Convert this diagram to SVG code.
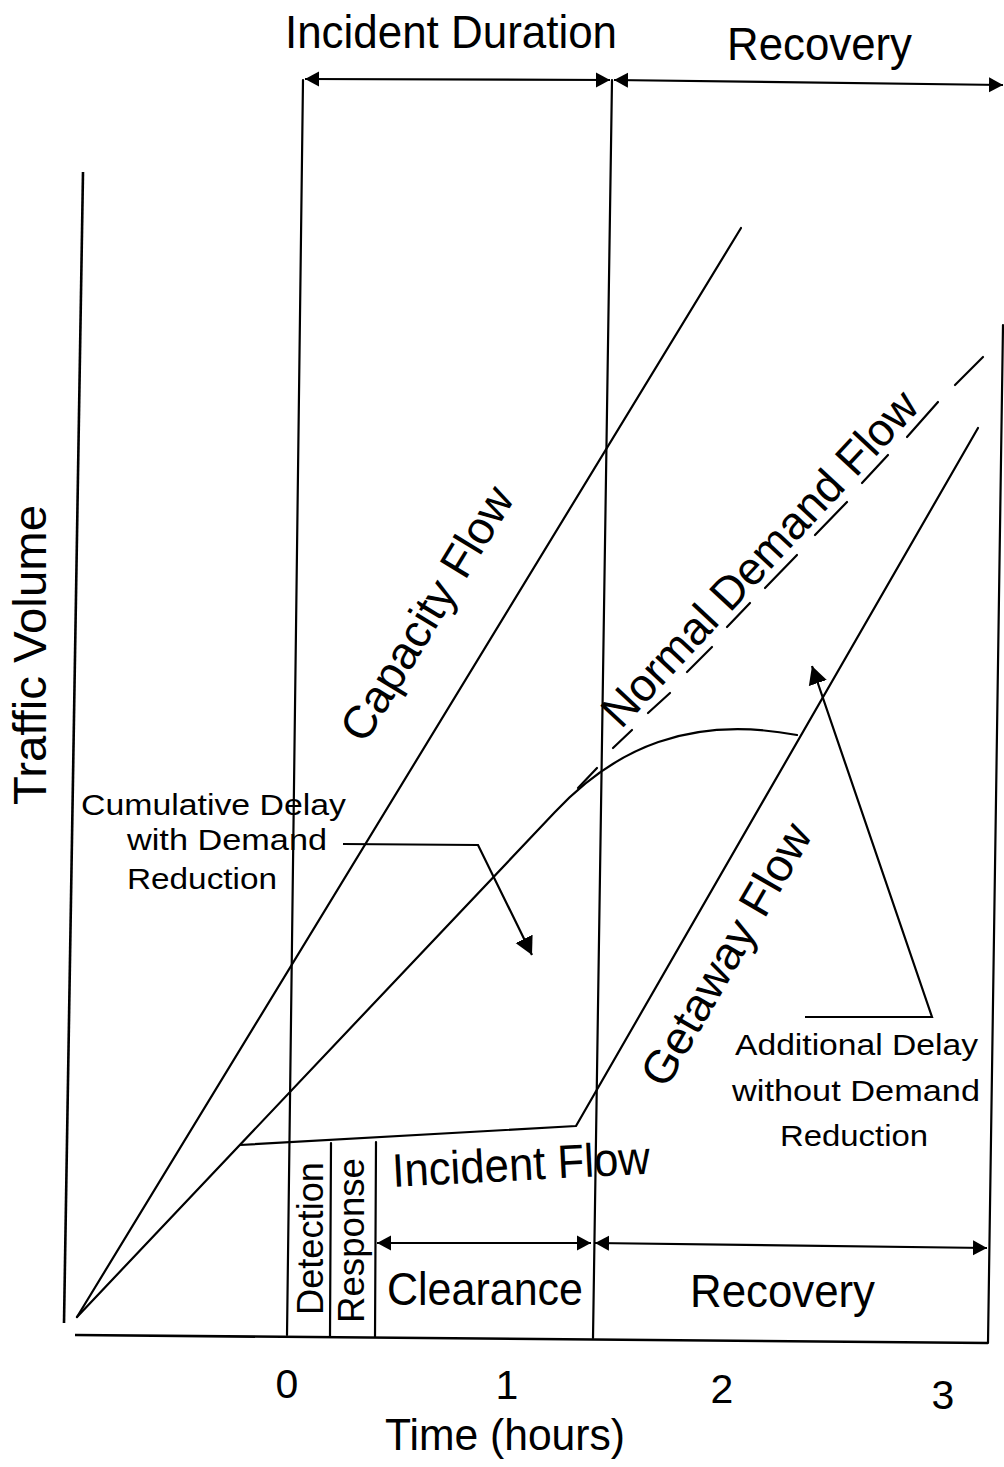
<svg xmlns="http://www.w3.org/2000/svg" width="1004" height="1467" viewBox="0 0 1004 1467">
<defs>
<marker id="ah" viewBox="0 -8 14 16" markerWidth="14" markerHeight="16" refX="14" refY="0" orient="auto-start-reverse" markerUnits="userSpaceOnUse"><path d="M0,-7.5 L14,0 L0,7.5 z" fill="#000"/></marker>
<marker id="ahb" viewBox="0 -10 18 20" markerWidth="18" markerHeight="20" refX="18" refY="0" orient="auto" markerUnits="userSpaceOnUse"><path d="M0,-9.5 L18,0 L0,9.5 z" fill="#000"/></marker>
</defs>
<style>
.ln{stroke:#000;stroke-width:2.2;fill:none;stroke-linecap:round;stroke-linejoin:round}
.ax{stroke:#000;stroke-width:2.6;fill:none}
.ar{stroke:#000;stroke-width:2.2;fill:none;marker-start:url(#ah);marker-end:url(#ah)}
.ld{stroke:#000;stroke-width:2.2;fill:none;marker-end:url(#ahb)}
text{font-family:"Liberation Sans",Arial,Helvetica,sans-serif;fill:#000}
.big{font-size:47px}
.mid{font-size:46px}
.sm{font-size:30px}
.tk{font-size:41px}
</style>
<rect width="1004" height="1467" fill="#fff"/>
<g id="connectors">
<path class="ax" d="M83,172 L64,1323"/>
<path class="ax" d="M75,1335 L988,1343"/>
<path class="ln" d="M303,80 L287,1335"/>
<path class="ln" d="M331,1143 L330,1336"/>
<path class="ln" d="M376,1142 L375,1337"/>
<path class="ln" d="M612,80 L593,1338"/>
<path class="ln" d="M1003,325 L988,1343"/>
<path class="ln" d="M77,1317 L741,228"/>
<path class="ln" d="M77,1317 L555,812 C615,748 690,715 797,735"/>
<path class="ln" d="M240,1145 L576,1126 L978,428"/>
<g id="normal-dashes" class="ln">
<path d="M578,788 L597,768"/>
<path d="M613,748 L632,730"/>
<path d="M648,713 L670,693"/>
<path d="M687,672 L712,647"/>
<path d="M727,627 L750,603"/>
<path d="M765,588 L797,555"/>
<path d="M815,535 L847,502"/>
<path d="M862,483 L888,455"/>
<path d="M907,437 L938,402"/>
<path d="M955,385 L983,357"/>
</g>
<path class="ar" d="M305,79 L610,80"/>
<path class="ar" d="M614,80 L1003,85"/>
<path class="ar" d="M377,1243 L591,1243"/>
<path class="ar" d="M595,1243 L987,1248"/>
<path class="ld" d="M343,844 L478,845 L532,955"/>
<path class="ld" d="M805,1017 L932,1017 L812,666"/>
</g>
<g id="label-incident-duration"><text class="big" x="285" y="48" textLength="332" lengthAdjust="spacingAndGlyphs">Incident Duration</text></g>
<g id="label-recovery-top"><text class="big" x="727" y="60" textLength="185" lengthAdjust="spacingAndGlyphs">Recovery</text></g>
<g id="label-traffic-volume"><text class="big" x="46" y="805" transform="rotate(-90 46 805)" textLength="300" lengthAdjust="spacingAndGlyphs">Traffic Volume</text></g>
<g id="label-capacity-flow"><text class="mid" x="365" y="745" transform="rotate(-58.6 365 745)">Capacity Flow</text></g>
<g id="label-normal-demand"><text class="mid" x="621" y="730" transform="rotate(-47 621 730)" textLength="440" lengthAdjust="spacingAndGlyphs">Normal Demand Flow</text></g>
<g id="label-getaway-flow"><text class="mid" x="666" y="1090" transform="rotate(-60 666 1090)" textLength="295" lengthAdjust="spacingAndGlyphs">Getaway Flow</text></g>
<g id="label-cumulative">
<text class="sm" x="81" y="815" textLength="265" lengthAdjust="spacingAndGlyphs">Cumulative Delay</text>
<text class="sm" x="127" y="850" textLength="200" lengthAdjust="spacingAndGlyphs">with Demand</text>
<text class="sm" x="127" y="889" textLength="150" lengthAdjust="spacingAndGlyphs">Reduction</text>
</g>
<g id="label-additional">
<text class="sm" x="735" y="1055" textLength="243" lengthAdjust="spacingAndGlyphs">Additional Delay</text>
<text class="sm" x="732" y="1101" textLength="248" lengthAdjust="spacingAndGlyphs">without Demand</text>
<text class="sm" x="780" y="1146" textLength="148" lengthAdjust="spacingAndGlyphs">Reduction</text>
</g>
<g id="label-incident-flow"><text class="big" x="393" y="1187" transform="rotate(-3 393 1187)" textLength="258" lengthAdjust="spacingAndGlyphs">Incident Flow</text></g>
<g id="label-detection"><text style="font-size:36px" x="323" y="1315" transform="rotate(-90 323 1315)" textLength="153" lengthAdjust="spacingAndGlyphs">Detection</text></g>
<g id="label-response"><text style="font-size:36px" x="364" y="1323" transform="rotate(-90 364 1323)" textLength="165" lengthAdjust="spacingAndGlyphs">Response</text></g>
<g id="label-clearance"><text class="big" x="387" y="1305" textLength="196" lengthAdjust="spacingAndGlyphs">Clearance</text></g>
<g id="label-recovery-bottom"><text class="mid" x="690" y="1307" textLength="185" lengthAdjust="spacingAndGlyphs">Recovery</text></g>
<g id="ticks">
<text class="tk" x="287" y="1398" text-anchor="middle">0</text>
<text class="tk" x="507" y="1399" text-anchor="middle">1</text>
<text class="tk" x="722" y="1403" text-anchor="middle">2</text>
<text class="tk" x="943" y="1409" text-anchor="middle">3</text>
</g>
<g id="label-time"><text style="font-size:44px" x="385" y="1450" textLength="240" lengthAdjust="spacingAndGlyphs">Time (hours)</text></g>
</svg>
